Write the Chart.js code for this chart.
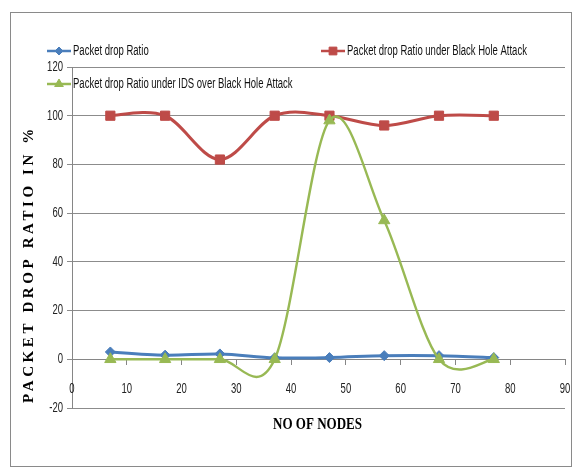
<!DOCTYPE html>
<html>
<head>
<meta charset="utf-8">
<script src="https://cdn.jsdelivr.net/npm/chart.js@4"></script>
<style>
  html, body { margin: 0; padding: 0; background: #fff; }
  #wrap { width: 574px; height: 470px; }
</style>
</head>
<body>
<div id="wrap"><canvas id="myChart" width="574" height="470"></canvas></div>
<script>
// number of nodes on the x axis
const nodes = [7, 17, 27, 37, 47, 57, 67, 77];

// packet drop ratio (%) for each run
const dropRatio = [3, 1.7, 2.2, 0.6, 0.7, 1.5, 1.5, 0.7];
const dropBlackHole = [100, 100, 82, 100, 100, 96, 100, 100];
const dropIDS = [0, 0, 0, 0, 98, 57, 0, 0];

const seriesLabels = [
  "Packet drop Ratio",
  "Packet drop Ratio under Black Hole Attack",
  "Packet drop Ratio under IDS over Black Hole Attack",
];
const seriesColors = ["#4A7EBB", "#BE4B48", "#98B954"];

const sans = '"Liberation Sans", Arial, sans-serif';
const serif = '"Liberation Serif", "Times New Roman", serif';
const squeeze = 0.68; // horizontal squeeze for the narrow label font

const toPoints = (ys) => ys.map((y, i) => ({ x: nodes[i], y: y }));

// draws text squeezed horizontally, like a condensed face
function narrowText(ctx, text, x, y, align) {
  ctx.save();
  ctx.translate(x, y);
  ctx.scale(squeeze, 1);
  ctx.textAlign = align;
  ctx.fillText(text, 0, 0);
  ctx.restore();
}

// Excel-style smoothing: catmull-rom control points in pixel space
const smoothLines = {
  id: "smoothLines",
  beforeDatasetDraw(chart, args) {
    const meta = args.meta;
    if (!meta.dataset) return;
    meta.dataset.updateControlPoints(chart.chartArea, "x");
    const pts = meta.data;
    for (let i = 0; i < pts.length; i++) {
      const prev = pts[Math.max(i - 1, 0)];
      const next = pts[Math.min(i + 1, pts.length - 1)];
      const dx = (next.x - prev.x) / 6;
      const dy = (next.y - prev.y) / 6;
      pts[i].cp1x = pts[i].x - dx;
      pts[i].cp1y = pts[i].y - dy;
      pts[i].cp2x = pts[i].x + dx;
      pts[i].cp2y = pts[i].y + dy;
    }
    meta.dataset._path = undefined;
  },
};

// frame, tick labels, axis titles and the legend
const decorations = {
  id: "decorations",
  beforeDraw(chart) {
    const ctx = chart.ctx;
    ctx.save();
    ctx.fillStyle = "#fff";
    ctx.fillRect(0, 0, chart.width, chart.height);
    ctx.strokeStyle = "#8a8a8a";
    ctx.lineWidth = 1;
    ctx.strokeRect(10.5, 12.5, 561, 454);
    ctx.restore();
  },
  afterDraw(chart) {
    const ctx = chart.ctx;
    const area = chart.chartArea;
    const xs = chart.scales.x;
    const ys = chart.scales.y;
    ctx.save();
    ctx.fillStyle = "#222";
    ctx.textBaseline = "middle";

    // tick labels
    ctx.font = "14px " + sans;
    ys.ticks.forEach((t) => {
      narrowText(ctx, String(t.value), ys.right - 9, ys.getPixelForValue(t.value), "right");
    });
    xs.ticks.forEach((t) => {
      narrowText(ctx, String(t.value), xs.getPixelForValue(t.value), ys.getPixelForValue(0) + 30, "center");
    });

    // x axis title
    ctx.fillStyle = "#000";
    ctx.font = "bold 16px " + serif;
    ctx.save();
    ctx.translate((area.left + area.right) / 2 - 1, 425);
    ctx.scale(89 / ctx.measureText("NO OF NODES").width, 1);
    ctx.textAlign = "center";
    ctx.fillText("NO OF NODES", 0, 0);
    ctx.restore();

    // y axis title
    ctx.save();
    ctx.translate(29, 264);
    ctx.rotate(-Math.PI / 2);
    ctx.font = "bold 15px " + serif;
    ctx.letterSpacing = "3.6px";
    ctx.textAlign = "center";
    ctx.fillText("PACKET DROP RATIO IN %", 0, 0);
    ctx.restore();

    // legend
    const spots = [[47, 51], [321, 51], [47, 84]];
    const marks = [4, 5.5, 5];
    chart.data.datasets.forEach((ds, i) => {
      const [lx, ly] = spots[i];
      ctx.strokeStyle = ds.borderColor;
      ctx.fillStyle = ds.backgroundColor;
      ctx.lineWidth = 2.5;
      ctx.beginPath();
      ctx.moveTo(lx, ly);
      ctx.lineTo(lx + 24, ly);
      ctx.stroke();
      ctx.lineWidth = 1;
      Chart.helpers.drawPoint(ctx, {
        pointStyle: ds.pointStyle,
        radius: marks[i],
        borderWidth: 1,
      }, lx + 12, ly);
      ctx.fillStyle = "#111";
      ctx.font = "14px " + sans;
      narrowText(ctx, ds.label, lx + 26, ly, "left");
    });
    ctx.restore();
  },
};

const baseSet = (label, ys, color, style, radius, width) => ({
  label: label,
  data: toPoints(ys),
  borderColor: color,
  backgroundColor: color,
  pointBackgroundColor: color,
  pointBorderColor: color,
  borderWidth: width,
  pointStyle: style,
  pointRadius: radius,
  pointBorderWidth: 1,
  tension: 0.4,
});

const datasets = [
  Object.assign(baseSet(seriesLabels[0], dropRatio, seriesColors[0], "rectRot", 5, 3), { order: 2 }),
  Object.assign(baseSet(seriesLabels[1], dropBlackHole, seriesColors[1], "rect", 6.5, 3), { order: 1 }),
  Object.assign(baseSet(seriesLabels[2], dropIDS, seriesColors[2], "triangle", 6.5, 2.4), { order: 0 }),
];

const ctx = document.getElementById("myChart").getContext("2d");
const myChart = new Chart(ctx, {
  type: "line",
  data: { datasets: datasets },
  options: {
    responsive: false,
    animation: false,
    layout: {
      padding: { top: 67, right: 9, bottom: 62, left: 12 },
    },
    scales: {
      x: {
        type: "linear",
        position: { y: 0 },
        min: 0,
        max: 90,
        ticks: { stepSize: 10, display: false },
        grid: {
          display: true,
          drawOnChartArea: false,
          drawTicks: true,
          tickLength: 5,
          color: "#868686",
        },
        border: { color: "#868686", width: 1 },
      },
      y: {
        min: -20,
        max: 120,
        ticks: { stepSize: 20, display: false },
        grid: {
          color: "#8c8c8c",
          tickLength: 5,
        },
        border: { color: "#868686", width: 1 },
        afterFit(scale) {
          scale.width = 60;
        },
      },
    },
    plugins: {
      legend: { display: false },
      tooltip: { enabled: false },
    },
  },
  plugins: [smoothLines, decorations],
});
</script>
</body>
</html>
